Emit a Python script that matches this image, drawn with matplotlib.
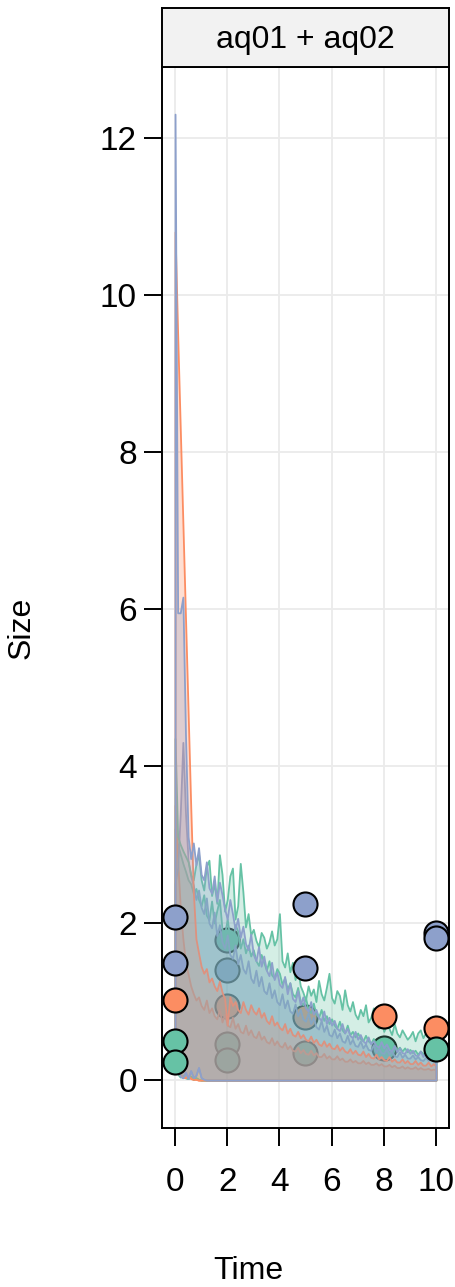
import numpy as np
import matplotlib.pyplot as plt
from matplotlib.colors import to_rgba

plt.rcParams['font.family'] = ['Liberation Sans', 'DejaVu Sans']

# simulated time grid (0 .. 10 by 0.1)
time = np.linspace(0, 10, 101)

# upper bounds of the bands, first model (aq01)
green_hi1 = [4.35, 3.1, 3.0, 2.92, 2.85, 2.78, 2.62, 2.55, 2.75, 2.88,
             2.55, 2.42, 2.72, 2.8, 2.35, 2.5, 2.25, 2.87, 2.62, 2.15,
             2.3, 2.6, 2.7, 2.05, 2.22, 2.76, 2.4, 1.95, 2.12, 1.85,
             1.92, 1.78, 1.7, 1.88, 1.82, 1.68, 1.76, 1.9, 1.72, 1.8,
             2.12, 1.52, 1.44, 1.62, 1.38, 1.5, 1.28, 1.42, 1.2, 1.12,
             1.02, 1.2, 1.08, 1.16, 1.0, 1.27, 1.1, 1.02, 1.18, 1.36,
             1.05, 0.98, 1.14, 1.08, 0.9, 1.15, 0.96, 0.88, 1.0, 0.84,
             0.78, 0.9, 0.82, 0.96, 0.74, 0.8, 0.92, 0.7, 0.66, 0.76,
             0.62, 0.7, 0.66, 0.58, 0.72, 0.6, 0.55, 0.64, 0.58, 0.52,
             0.56, 0.62, 0.5, 0.6, 0.64, 0.54, 0.6, 0.57, 0.5, 0.55,
             0.47]
orange_hi1 = [10.8, 9.5, 8.3, 7.1, 5.9, 4.7, 3.5, 2.4, 1.8, 1.62,
              1.45, 1.36, 1.42, 1.25, 1.3, 1.2, 1.14, 1.26, 1.12, 1.04,
              0.7, 1.06, 0.95, 1.0, 0.9, 0.86, 1.0, 0.9, 0.84, 0.96,
              0.88, 0.84, 0.92, 0.8, 0.86, 0.76, 0.72, 0.82, 0.7, 0.74,
              0.67, 0.64, 0.72, 0.6, 0.66, 0.58, 0.56, 0.62, 0.54, 0.58,
              0.52, 0.5, 0.56, 0.48, 0.52, 0.46, 0.44, 0.5, 0.43, 0.47,
              0.41, 0.4, 0.45, 0.38, 0.42, 0.37, 0.35, 0.4, 0.34, 0.38,
              0.33, 0.32, 0.37, 0.3, 0.34, 0.29, 0.28, 0.33, 0.27, 0.3,
              0.26, 0.25, 0.3, 0.24, 0.27, 0.23, 0.23, 0.27, 0.22, 0.25,
              0.21, 0.21, 0.25, 0.2, 0.23, 0.19, 0.19, 0.23, 0.18, 0.21,
              0.18]
blue_hi1 = [12.3, 5.95, 5.95, 6.15, 4.4, 3.1, 2.82, 3.02, 2.74, 2.96,
            2.62, 2.55, 2.78, 2.45, 2.38, 2.6, 2.28, 2.52, 2.36, 2.18,
            2.05, 2.3, 2.12, 1.92, 2.06, 1.82, 1.96, 1.74, 1.66, 1.86,
            1.6, 1.52, 1.7, 1.45, 1.58, 1.4, 1.33, 1.5, 1.28, 1.38,
            1.22, 1.18, 1.32, 1.1, 1.24, 1.04, 1.0, 1.14, 0.96, 1.06,
            0.92, 0.88, 1.0, 0.84, 0.9, 0.8, 0.76, 0.88, 0.72, 0.8,
            0.7, 0.76, 0.66, 0.63, 0.72, 0.6, 0.66, 0.57, 0.54, 0.62,
            0.52, 0.58, 0.5, 0.47, 0.55, 0.46, 0.5, 0.44, 0.42, 0.49,
            0.41, 0.46, 0.39, 0.37, 0.44, 0.36, 0.41, 0.35, 0.34, 0.4,
            0.34, 0.38, 0.32, 0.31, 0.37, 0.3, 0.35, 0.3, 0.29, 0.33,
            0.32]

# upper bounds, second model (aq02)
green_hi2 = [3.2, 3.0, 2.88, 2.76, 2.66, 2.55, 2.5, 2.38, 2.44, 2.3,
             2.22, 2.36, 2.1, 2.04, 2.28, 2.0, 2.16, 2.3, 1.92, 1.86,
             2.05, 1.8, 1.74, 1.98, 1.9, 1.68, 1.8, 1.62, 1.72, 1.58,
             1.66, 1.52, 1.46, 1.6, 1.5, 1.4, 1.52, 1.34, 1.3, 1.42,
             1.36, 1.22, 1.3, 1.16, 1.24, 1.1, 1.06, 1.18, 1.0, 0.96,
             1.05, 0.9, 0.86, 0.98, 0.84, 0.8, 0.9, 0.76, 0.82, 0.72,
             0.78, 0.7, 0.66, 0.75, 0.64, 0.6, 0.7, 0.58, 0.62, 0.55,
             0.6, 0.53, 0.5, 0.57, 0.5, 0.47, 0.53, 0.46, 0.5, 0.44,
             0.47, 0.42, 0.46, 0.4, 0.44, 0.39, 0.42, 0.37, 0.41, 0.36,
             0.39, 0.35, 0.38, 0.33, 0.37, 0.34, 0.32, 0.36, 0.31, 0.33,
             0.3]
orange_hi2 = [3.5, 2.8, 2.2, 1.8, 1.5, 1.35, 1.2, 1.1, 1.02, 1.06,
              0.95, 0.9, 1.02, 0.86, 0.92, 0.82, 0.78, 0.9, 0.74, 0.84,
              0.7, 0.68, 0.8, 0.66, 0.72, 0.62, 0.6, 0.7, 0.58, 0.64,
              0.56, 0.54, 0.62, 0.52, 0.56, 0.49, 0.47, 0.54, 0.45, 0.5,
              0.44, 0.42, 0.48, 0.4, 0.44, 0.38, 0.37, 0.42, 0.35, 0.39,
              0.34, 0.33, 0.38, 0.32, 0.35, 0.3, 0.3, 0.34, 0.28, 0.31,
              0.27, 0.27, 0.31, 0.26, 0.28, 0.24, 0.24, 0.27, 0.23, 0.25,
              0.22, 0.22, 0.25, 0.21, 0.23, 0.2, 0.2, 0.22, 0.19, 0.21,
              0.18, 0.18, 0.2, 0.17, 0.19, 0.16, 0.16, 0.18, 0.15, 0.17,
              0.15, 0.15, 0.17, 0.14, 0.16, 0.14, 0.14, 0.15, 0.13, 0.14,
              0.13]
blue_hi2 = [2.5, 2.7, 3.4, 4.3, 3.4, 2.8, 2.6, 2.48, 2.3, 2.42,
            2.2, 2.12, 2.32, 2.0, 1.94, 2.14, 1.84, 1.98, 1.76, 1.68,
            1.85, 1.6, 1.55, 1.72, 1.48, 1.6, 1.42, 1.36, 1.52, 1.3,
            1.24, 1.4, 1.2, 1.32, 1.14, 1.1, 1.24, 1.05, 1.15, 1.0,
            0.96, 1.1, 0.92, 1.02, 0.88, 0.85, 0.97, 0.82, 0.9, 0.78,
            0.75, 0.86, 0.72, 0.8, 0.68, 0.65, 0.76, 0.62, 0.7, 0.58,
            0.56, 0.65, 0.54, 0.6, 0.5, 0.48, 0.57, 0.46, 0.52, 0.44,
            0.43, 0.5, 0.41, 0.46, 0.39, 0.38, 0.45, 0.36, 0.41, 0.35,
            0.34, 0.4, 0.33, 0.37, 0.31, 0.3, 0.36, 0.29, 0.33, 0.28,
            0.28, 0.32, 0.27, 0.3, 0.26, 0.25, 0.29, 0.25, 0.27, 0.24,
            0.25]

# lower bounds (drop to zero almost at once)
green_lo = [0.25, 0.08, 0.04, 0.06, 0.03, 0.02, 0.05, 0.01, 0.03, 0.01] + [0.0] * 91
orange_lo = [0.3, 0.12, 0.06, 0.04, 0.03, 0.06, 0.02, 0.01, 0.01, 0.0] + [0.0] * 91
blue_lo = [0.35, 0.15, 0.05, 0.03, 0.1, 0.02, 0.12, 0.03, 0.06, 0.16,
           0.03, 0.01] + [0.0] * 89

# observed sizes
palette = {'g1': '#66C2A5', 'g2': '#FC8D62', 'g3': '#8DA0CB'}

# points sitting under the bands
obs_under_time = [2, 2, 2, 2, 2, 5, 5, 8]
obs_under_size = [1.79, 1.40, 0.94, 0.46, 0.25, 0.80, 0.34, 0.41]
obs_under_group = ['g1', 'g3', 'g2', 'g1', 'g1', 'g2', 'g1', 'g1']
# points drawn on top
obs_over_time = [0, 0, 0, 0, 0, 5, 5, 8, 10, 10, 10, 10]
obs_over_size = [2.08, 1.49, 1.02, 0.50, 0.23, 2.24, 1.43, 0.82, 1.87, 1.81, 0.66, 0.39]
obs_over_group = ['g3', 'g3', 'g2', 'g1', 'g1', 'g3', 'g3', 'g2', 'g3', 'g3', 'g2', 'g1']

W, H = 456, 1287
fig = plt.figure(figsize=(W / 100, H / 100), dpi=100)
ax = fig.add_axes([162 / W, 1 - 1128 / H, (449 - 162) / W, (1128 - 67) / H])
strip = fig.add_axes([162 / W, 1 - 67 / H, (449 - 162) / W, (67 - 8) / H])

ax.set_xlim(-0.5, 10.5)
ax.set_ylim(-0.61, 12.9)
ax.set_xticks(range(0, 11, 2))
ax.set_yticks(range(0, 13, 2))
ax.grid(True, color='#EBEBEB', lw=1.3, zorder=0)
ax.set_axisbelow(True)

for t, s, g in zip(obs_under_time, obs_under_size, obs_under_group):
    ax.scatter(t, s, s=300, color=palette[g], edgecolor='black', lw=1.5, zorder=1)

bands = [
    (green_lo, green_hi2, 'g1'), (orange_lo, orange_hi2, 'g2'), (blue_lo, blue_hi2, 'g3'),
    (green_lo, green_hi1, 'g1'), (orange_lo, orange_hi1, 'g2'), (blue_lo, blue_hi1, 'g3'),
]
for lo, hi, g in bands:
    ax.fill_between(time, lo, hi, facecolor=to_rgba(palette[g], 0.28),
                    edgecolor=palette[g], lw=1.3, zorder=2)

for t, s, g in zip(obs_over_time, obs_over_size, obs_over_group):
    ax.scatter(t, s, s=300, color=palette[g], edgecolor='black', lw=1.5, zorder=3)

ax.tick_params(direction='out', length=13, width=1.4, labelsize=24, color='black')
ax.tick_params(axis='y', pad=5)
ax.tick_params(axis='x', pad=15)
for sp in ax.spines.values():
    sp.set_linewidth(1.4)

strip.set_facecolor('#F2F2F2')
strip.set_xticks([])
strip.set_yticks([])
for sp in strip.spines.values():
    sp.set_linewidth(1.4)
strip.text(0.5, 0.45, 'aq01 + aq02', ha='center', va='center', fontsize=23,
           transform=strip.transAxes)

fig.text(22 / W, 1 - 628 / H, 'Size', rotation=90, ha='center', va='center', fontsize=23)
fig.text(248 / W, 1 - 1271 / H, 'Time', ha='center', va='center', fontsize=23)

fig.savefig('out.png', dpi=100)
